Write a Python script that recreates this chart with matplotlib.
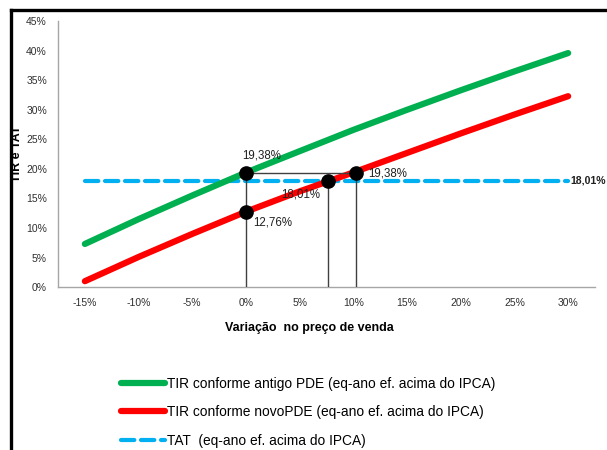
import matplotlib
matplotlib.use('Agg')
import matplotlib.pyplot as plt
from matplotlib.lines import Line2D
from matplotlib.ticker import FuncFormatter

plt.rcParams['font.family'] = ['Liberation Sans', 'DejaVu Sans']

# variação no preço de venda (%)
variacao = [-15, -10, -5, 0, 5, 10, 15, 20, 25, 30]
tir_antigo = [7.3, 11.5, 15.5, 19.38, 23.0, 26.6, 30.0, 33.3, 36.5, 39.6]
tir_novo = [1.0, 5.1, 9.0, 12.76, 16.2, 19.4, 22.7, 26.0, 29.2, 32.3]
tat = 18.01

# pontos de destaque (x, y, texto)
pt_x = [0, 0, 7.6, 10.2]
pt_y = [19.38, 12.76, 18.01, 19.38]
pt_txt = ['19,38%', '12,76%', '18,01%', '19,38%']

labels = ['TIR conforme antigo PDE (eq-ano ef. acima do IPCA)',
          'TIR conforme novoPDE (eq-ano ef. acima do IPCA)',
          'TAT  (eq-ano ef. acima do IPCA)']

fig = plt.figure(figsize=(6.07, 4.5), dpi=100)
ax = fig.add_axes([0.0956, 0.362, 0.8846, 0.591])

l1, = ax.plot(variacao, tir_antigo, color='#00B050', lw=4.5, solid_capstyle='round', zorder=3)
l2, = ax.plot(variacao, tir_novo, color='#FF0000', lw=4.5, solid_capstyle='round', zorder=3)
l3, = ax.plot([variacao[0], variacao[-1]], [tat, tat], color='#00B0F0', lw=3,
              dashes=(3.2, 1.6), dash_capstyle='round', zorder=2)

# linhas de referência
ref = '#404040'
ax.plot([pt_x[0], pt_x[0]], [0, pt_y[0]], color=ref, lw=1, zorder=4)
ax.plot([pt_x[0], pt_x[3]], [pt_y[0], pt_y[3]], color=ref, lw=1, zorder=4)
ax.plot([pt_x[2], pt_x[2]], [0, pt_y[2]], color=ref, lw=1, zorder=4)
ax.plot([pt_x[3], pt_x[3]], [0, pt_y[3]], color=ref, lw=1, zorder=4)
ax.plot(pt_x, pt_y, 'o', color='black', ms=9.5, zorder=5)

offs = [(-3, 12), (5, -8), (-5, -10), (9, -1)]
has = ['left', 'left', 'right', 'left']
for x, y, t, o, h in zip(pt_x, pt_y, pt_txt, offs, has):
    ax.annotate(t, (x, y), xytext=o, textcoords='offset points', fontsize=8.3,
                ha=h, va='center', color='#202020', zorder=6)
ax.annotate('18,01%', (variacao[-1], tat), xytext=(1.5, 0), textcoords='offset points',
            fontsize=7.6, fontweight='bold', ha='left', va='center', color='#202020')

ax.set_xlim(-17.5, 32.5)
ax.set_ylim(0, 45)
ax.set_xticks(variacao)
ax.set_yticks(range(0, 46, 5))
ax.xaxis.set_major_formatter(FuncFormatter(lambda v, p: '%d%%' % v))
ax.yaxis.set_major_formatter(FuncFormatter(lambda v, p: '%d%%' % v))
ax.tick_params(length=0, labelsize=7.5, labelcolor='#303030', pad=8)
for s in ['top', 'right']:
    ax.spines[s].set_visible(False)
for s in ['left', 'bottom']:
    ax.spines[s].set_color('#A6A6A6')
    ax.spines[s].set_linewidth(1)

ax.set_xlabel('Variação  no preço de venda', fontsize=9, fontweight='bold')
ax.xaxis.set_label_coords(0.469, -0.13)
ax.set_ylabel('TIR e TAT', fontsize=9, fontweight='bold')
ax.yaxis.set_label_coords(-0.065, 0.5)

fig.legend([l1, l2, l3], labels, loc='upper left', bbox_to_anchor=(0.2, 0.163),
           frameon=False, fontsize=9.9, handlelength=3.2, handletextpad=0.1,
           labelspacing=1.05, borderpad=0, borderaxespad=0)

# moldura da imagem
fig.add_artist(Line2D([0.0173, 0.0173], [0, 0.9767], color='black', lw=2.4))
fig.add_artist(Line2D([0.0173, 1], [0.9767, 0.9767], color='black', lw=2.4))

fig.savefig('out.png', dpi=100)
